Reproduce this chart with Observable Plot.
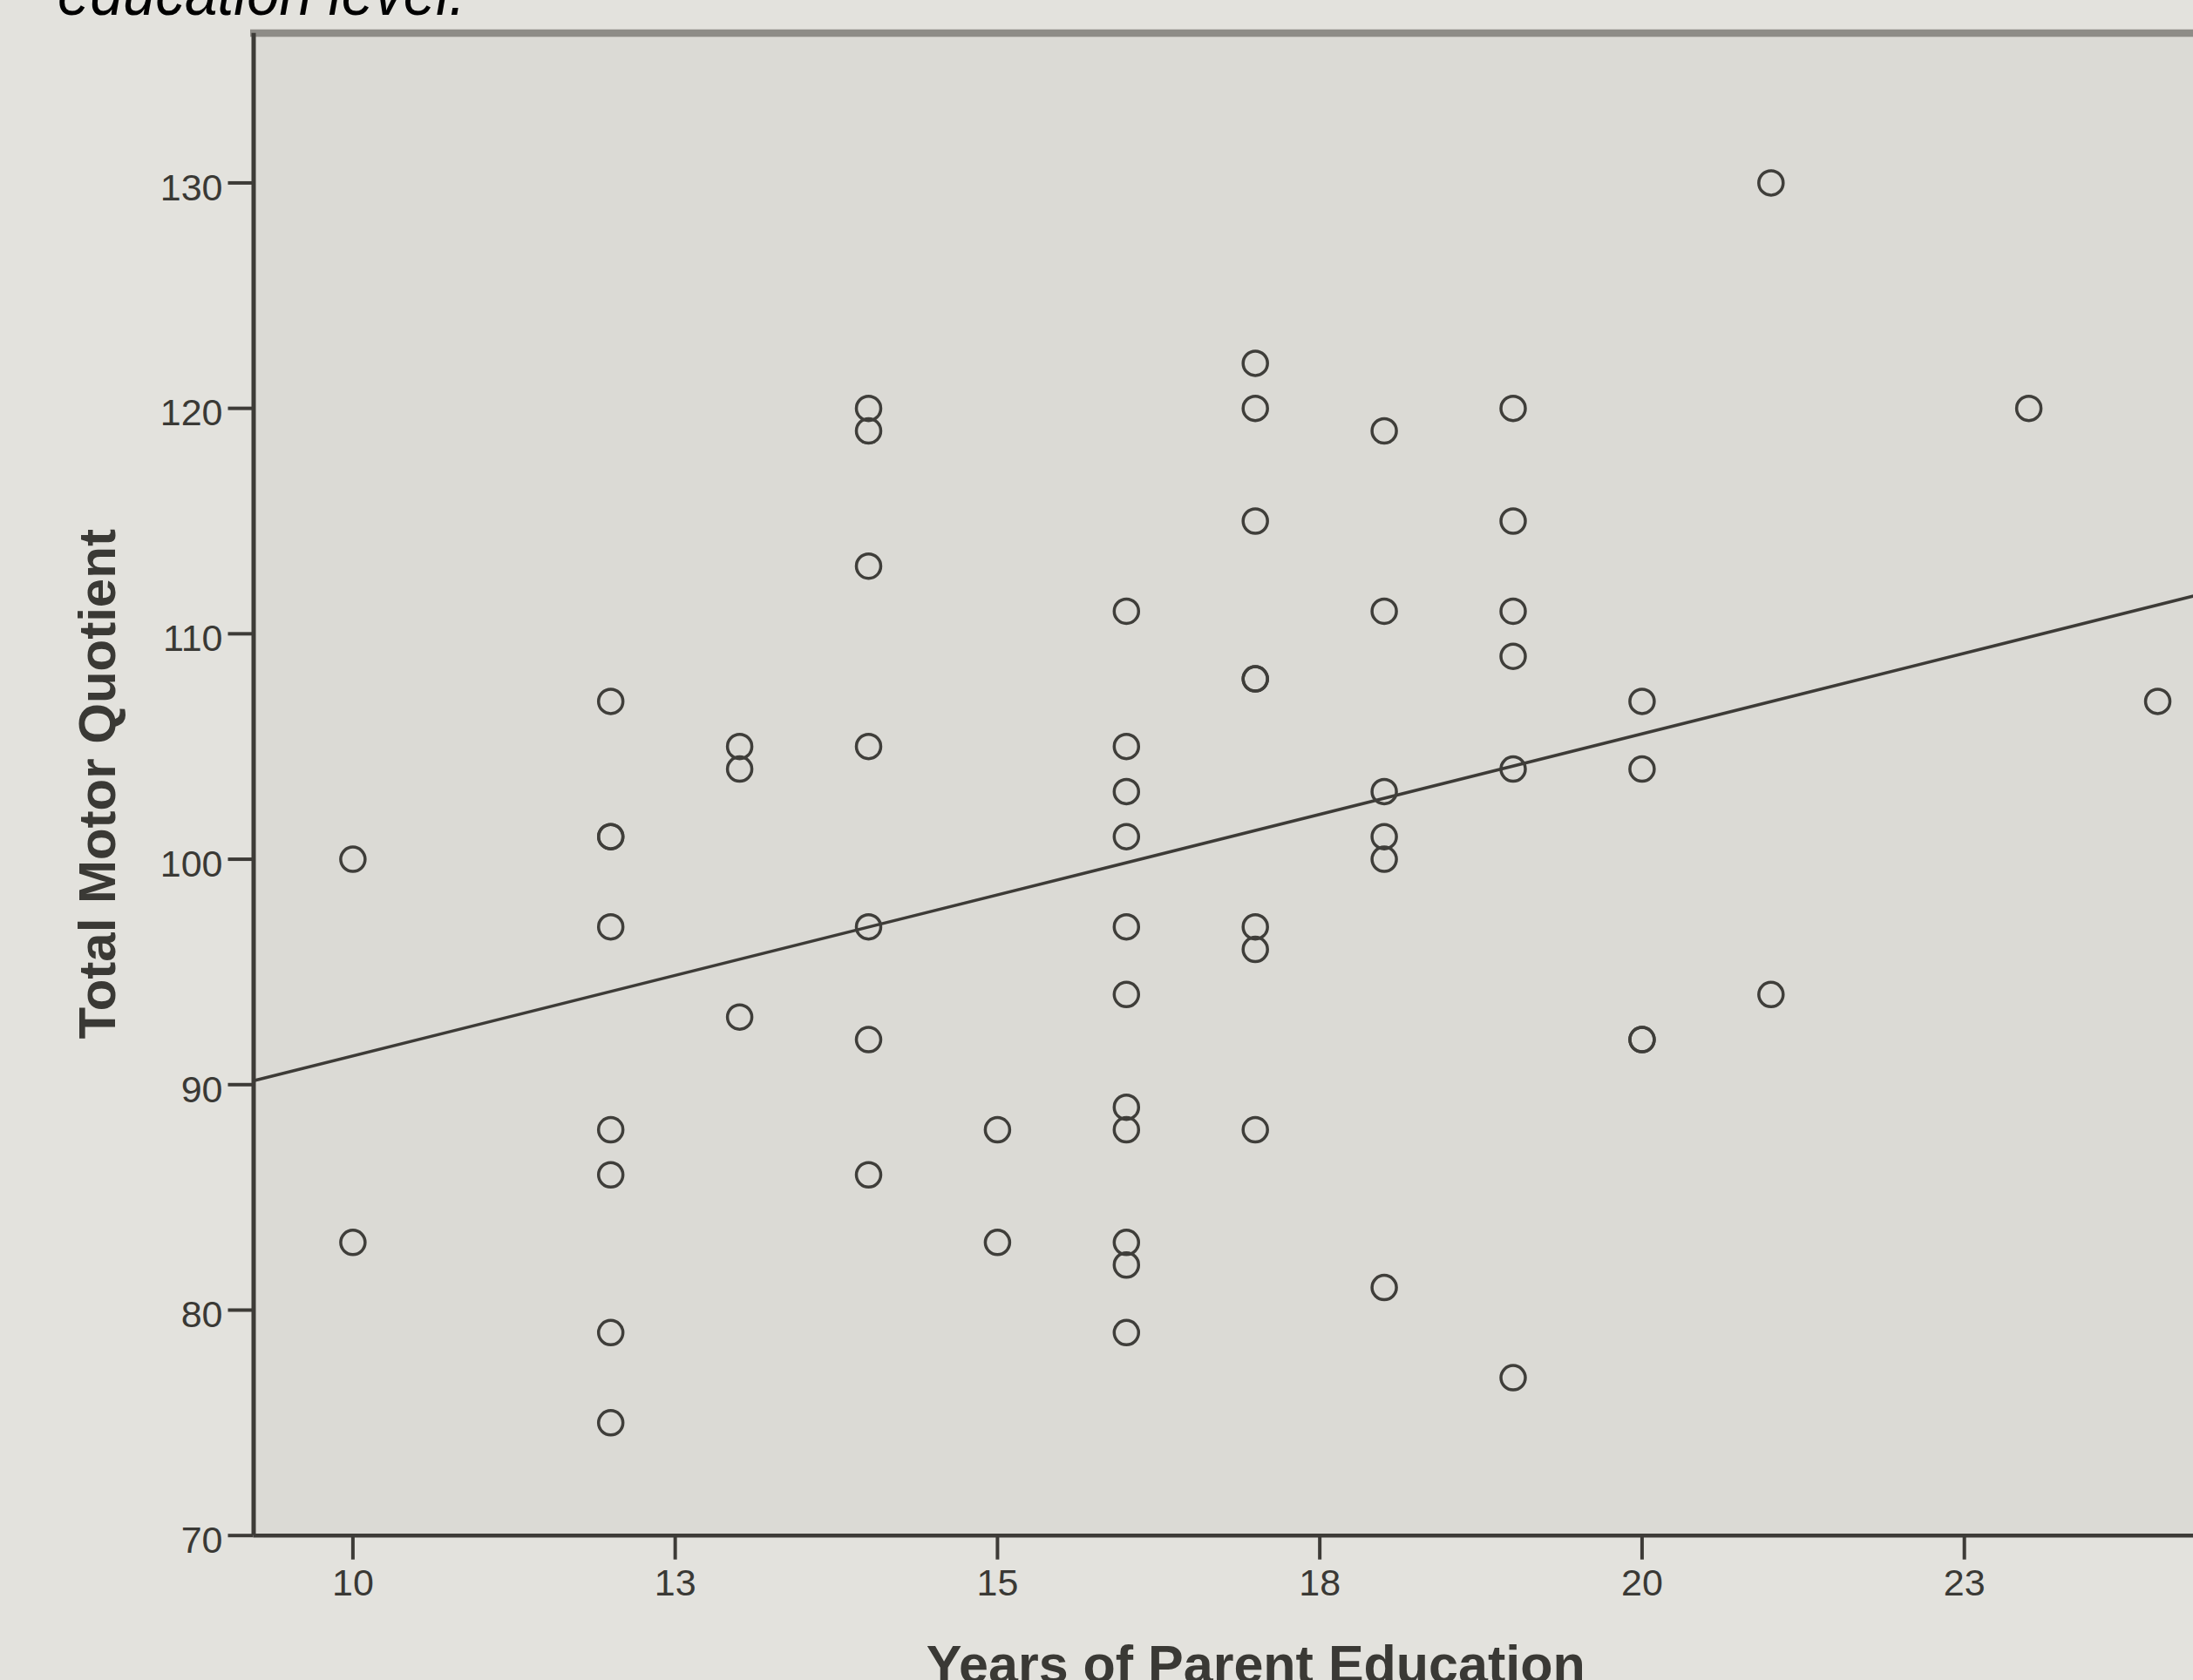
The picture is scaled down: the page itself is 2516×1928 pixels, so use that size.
<!DOCTYPE html>
<html><head><meta charset="utf-8">
<script src="https://cdn.jsdelivr.net/npm/d3@7"></script>
<script src="https://cdn.jsdelivr.net/npm/@observablehq/plot@0.6"></script>
<style>
html,body{margin:0;padding:0;background:#e3e2dd;overflow:hidden;width:2516px;height:1928px;}
#title{position:relative;height:33px;overflow:hidden;}
#title span{position:absolute;left:66px;top:-45px;font:italic 74px/74px "Liberation Sans",Arial,sans-serif;color:#000;white-space:nowrap;transform:scaleX(0.91);transform-origin:left center;}
#chart svg{display:block;overflow:hidden;}
</style></head><body>
<div id="title"><span>education level.</span></div>
<div id="chart"></div>
<script>
// Years of parent education (x) and Total Motor Quotient (y), paired by index
const parentEducation = [
  10, 10,
  12, 12, 12, 12, 12, 12, 12, 12,
  13, 13, 13,
  14, 14, 14, 14, 14, 14, 14,
  15, 15,
  16, 16, 16, 16, 16, 16, 16, 16, 16, 16, 16,
  17, 17, 17, 17, 17, 17, 17, 17,
  18, 18, 18, 18, 18, 18,
  19, 19, 19, 19, 19, 19,
  20, 20, 20, 20,
  21, 21,
  23,
  24
];
const motorQuotient = [
  100, 83,
  107, 101, 101, 97, 88, 86, 79, 75,
  105, 104, 93,
  120, 119, 113, 105, 97, 92, 86,
  88, 83,
  111, 105, 103, 101, 97, 94, 89, 88, 83, 82, 79,
  122, 120, 115, 108, 108, 97, 96, 88,
  119, 111, 103, 101, 100, 81,
  120, 115, 111, 109, 104, 77,
  107, 104, 92, 92,
  130, 94,
  120,
  107
];
const xTicks = [10, 12.5, 15, 17.5, 20, 22.5];
const xTickLabels = ["10", "13", "15", "18", "20", "23"];
const yTicks = [70, 80, 90, 100, 110, 120, 130];
const xLabel = "Years of Parent Education";
const yLabel = "Total Motor Quotient";

const xDomain = [9.23, 24.277];
const yDomain = [70, 136.51];

const points = parentEducation.map((x, i) => ({x, y: motorQuotient[i]}));

// least-squares fit line (drawn across the whole frame, as SPSS does)
const mx = d3.mean(parentEducation), my = d3.mean(motorQuotient);
const sxy = d3.sum(parentEducation, (x, i) => (x - mx) * (motorQuotient[i] - my));
const sxx = d3.sum(parentEducation, x => (x - mx) ** 2);
const slope = sxy / sxx, intercept = my - slope * mx;
const fitLine = xDomain.map(x => ({x, y: intercept + slope * x}));

const dark = "#3d3b37";
const textColor = "#3a3935";

const chart = Plot.plot({
  width: 2516,
  height: 1895,
  marginLeft: 290.5,
  marginRight: 0,
  marginTop: 8,
  marginBottom: 166.3,
  x: {domain: xDomain, axis: null},
  y: {domain: yDomain, axis: null},
  style: {background: "transparent", fontFamily: "'Liberation Sans', Arial, sans-serif", color: textColor},
  marks: [
    Plot.frame({fill: "#dbdad5", stroke: "none"}),
    Plot.ruleY([yDomain[1]], {stroke: "#8e8c87", strokeWidth: 8.5, dy: -3.5, insetLeft: -3.5}),
    Plot.line(fitLine, {x: "x", y: "y", stroke: dark, strokeWidth: 3.5}),
    Plot.dot(points, {x: "x", y: "y", r: 14, stroke: "#3f3e3a", strokeWidth: 3.5, fill: "none"}),
    // y ticks and labels
    Plot.ruleY(yTicks, {y: d => d, x1: xDomain[0], x2: xDomain[0], insetLeft: -29, stroke: dark, strokeWidth: 4}),
    Plot.text(yTicks, {y: d => d, x: xDomain[0], text: d => String(d), textAnchor: "end", dx: -35.5, dy: 6,
      fontSize: 43, fill: textColor}),
    // x ticks and labels
    Plot.ruleX(xTicks, {x: d => d, y1: yDomain[0], y2: yDomain[0], insetBottom: -28, stroke: dark, strokeWidth: 4}),
    Plot.text(xTicks, {x: d => d, y: yDomain[0], text: (d, i) => xTickLabels[i], lineAnchor: "top", dy: 38,
      fontSize: 43, fill: textColor}),
    // axis lines
    Plot.ruleX([xDomain[0]], {stroke: dark, strokeWidth: 5, insetTop: -3.3}),
    Plot.ruleY([yDomain[0]], {stroke: dark, strokeWidth: 4.5}),
    // axis titles
    Plot.text([xLabel], {text: d => d, frameAnchor: "bottom", textAnchor: "middle", lineAnchor: "top", dy: 125.3, dx: 37,
      fontSize: 61, fontWeight: "bold", fill: textColor}),
    Plot.text([yLabel], {text: d => d, frameAnchor: "left", textAnchor: "middle", rotate: -90, lineAnchor: "top", dx: -201.5, dy: -2,
      fontSize: 60, fontWeight: "bold", fill: textColor})
  ]
});
document.getElementById("chart").appendChild(chart);
</script>
</body></html>
